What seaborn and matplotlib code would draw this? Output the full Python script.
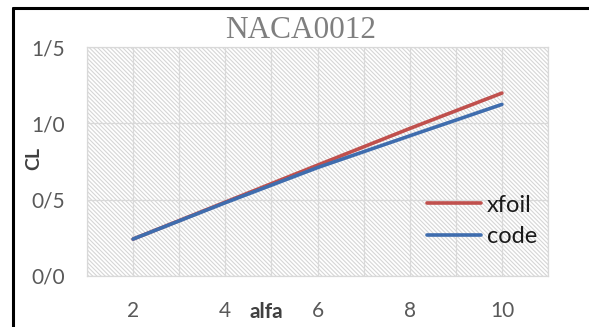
import matplotlib
matplotlib.use("Agg")
import matplotlib.pyplot as plt
from matplotlib.patches import Rectangle
from matplotlib.lines import Line2D
import seaborn as sns
import pandas as pd

# Lift coefficient versus angle of attack for NACA0012
alfa = [2, 4, 6, 8, 10]
cl_xfoil = [0.242, 0.484, 0.726, 0.966, 1.198]
cl_code = [0.242, 0.480, 0.710, 0.918, 1.124]
series_names = ["xfoil", "code"]

x_ticks = [2, 4, 6, 8, 10]
x_tick_labels = ["2", "4", "6", "8", "10"]
y_ticks = [0.0, 0.5, 1.0, 1.5]
y_tick_labels = ["0/0", "0/5", "1/0", "1/5"]

title_text = "NACA0012"
x_label = "alfa"
y_label = "CL"

sns.set_style("white")
plt.rcParams["font.family"] = ["Lato", "DejaVu Sans"]
plt.rcParams["hatch.linewidth"] = 0.8

df = pd.concat([
    pd.DataFrame({"alfa": alfa, "CL": cl_xfoil, "series": series_names[0]}),
    pd.DataFrame({"alfa": alfa, "CL": cl_code, "series": series_names[1]}),
])

W, H = 589, 327
fig = plt.figure(figsize=(W / 100, H / 100), dpi=100)
ax = fig.add_axes([87 / W, 1 - 276 / H, (548 - 87) / W, (276 - 47) / H])

# hatched plot area
bg = Rectangle((0, 0), 1, 1, transform=ax.transAxes, facecolor="white",
               edgecolor="#D6D6D6", hatch="\\" * 8, lw=0, zorder=0)
ax.add_patch(bg)

sns.lineplot(data=df, x="alfa", y="CL", hue="series", hue_order=series_names,
             palette={"xfoil": "#C0504D", "code": "#3F6DAE"},
             linewidth=2.6, ax=ax, zorder=3, legend=True)

ax.set_xlim(1, 11)
ax.set_ylim(0, 1.5)
ax.set_xticks(x_ticks)
ax.set_xticklabels(x_tick_labels)
ax.set_xticks(range(1, 12), minor=True)
ax.set_yticks(y_ticks)
ax.set_yticklabels(y_tick_labels)
ax.tick_params(axis="both", which="both", length=0, labelsize=15,
               labelcolor="#595959")
ax.tick_params(axis="x", pad=18)
ax.tick_params(axis="y", pad=16)
ax.grid(True, which="major", axis="both", color="#D9D9D9", lw=0.9, zorder=1)
ax.grid(True, which="minor", axis="x", color="#D9D9D9", lw=0.9, zorder=1)
ax.set_axisbelow(True)
for s in ax.spines.values():
    s.set_color("#D9D9D9")
    s.set_linewidth(0.9)

ax.set_xlabel(x_label, fontsize=15, fontweight="bold", color="#404040")
ax.xaxis.label.set_va("center")
ax.xaxis.set_label_coords((266 - 87) / 461, (276 - 312) / 229)
ax.set_ylabel(y_label, fontsize=14, fontweight="bold", color="#404040")
ax.yaxis.label.set_va("center")
ax.yaxis.set_label_coords((34 - 87) / 461, (276 - 158) / 229)

fig.text(301 / W, 1 - 31 / H, title_text, ha="center", va="center",
         fontsize=22.5, color="#7F7F7F", family="Liberation Serif")

leg = ax.legend(loc="center left", bbox_to_anchor=((427 - 87) / 461, (276 - 221) / 229),
                frameon=False, fontsize=17, handlelength=2.3, handletextpad=0.25,
                borderpad=0, borderaxespad=0, labelspacing=0.45)
for t in leg.get_texts():
    t.set_color("#1A1A1A")
for h in leg.get_lines():
    h.set_linewidth(2.6)

# outer frame (left and top edges)
fig.add_artist(Line2D([13 / W, 13 / W], [0, 1 - 8 / H], color="black", lw=2.2,
                      transform=fig.transFigure))
fig.add_artist(Line2D([13 / W, 1], [1 - 8 / H, 1 - 8 / H], color="black", lw=2.2,
                      transform=fig.transFigure))

fig.savefig("out.png", dpi=100)
